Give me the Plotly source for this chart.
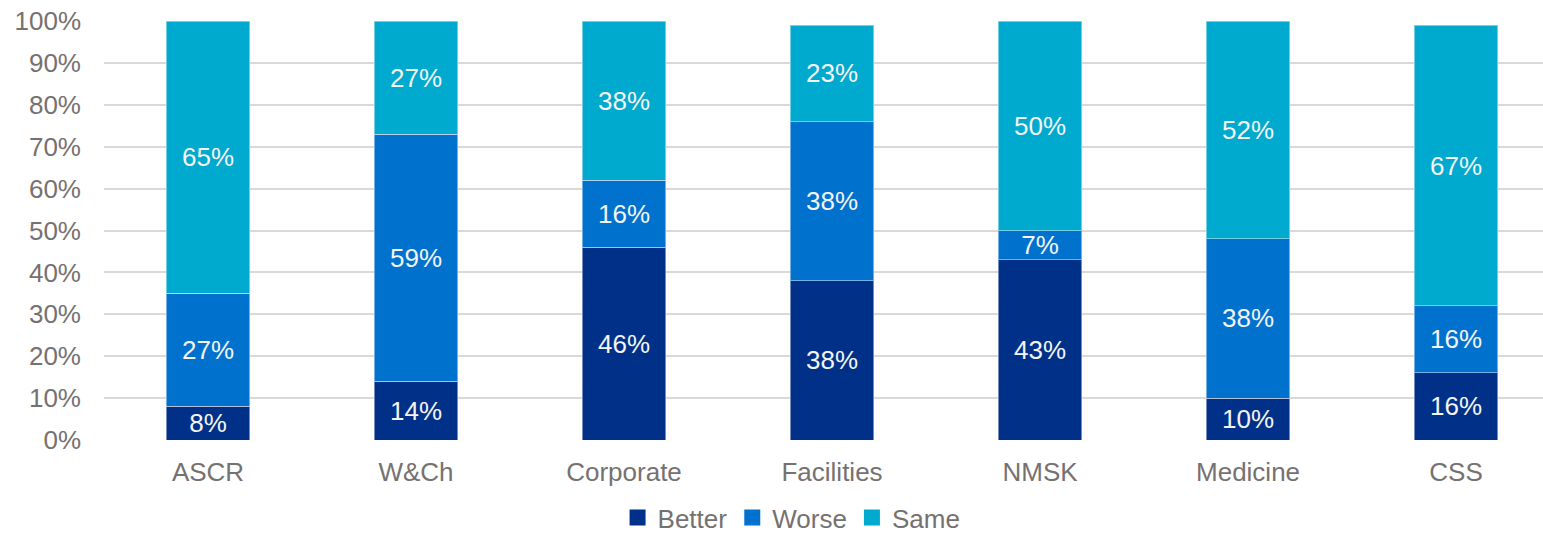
import plotly.graph_objects as go

# Survey responses by division (share of respondents)
categories = ["ASCR", "W&Ch", "Corporate", "Facilities", "NMSK", "Medicine", "CSS"]
better = [8, 14, 46, 38, 43, 10, 16]
worse = [27, 59, 16, 38, 7, 38, 16]
same = [65, 27, 38, 23, 50, 52, 67]

y_ticks = [0, 10, 20, 30, 40, 50, 60, 70, 80, 90, 100]
y_tick_labels = [f"{v}%" for v in y_ticks]

FONT = "Liberation Sans, Arial, sans-serif"
GREY = "#767171"

series = [
    ("Better", better, "#003087"),
    ("Worse", worse, "#0072CE"),
    ("Same", same, "#00A9CE"),
]

fig = go.Figure()
for name, vals, color in series:
    fig.add_trace(go.Bar(
        name=name,
        x=categories,
        y=[v / 100 for v in vals],
        width=0.4,
        marker=dict(color=color, line=dict(color="rgba(255,255,255,0.45)", width=1)),
        text=[f"{v}%" for v in vals],
        textposition="inside",
        insidetextanchor="middle",
        constraintext="none",
        textfont=dict(family=FONT, size=26, color="#F4F4F4"),
        hoverinfo="skip",
        showlegend=False,
    ))

# Legend entries with larger square swatches
for name, _, color in series:
    fig.add_trace(go.Scatter(
        name=name,
        x=[None], y=[None],
        mode="markers",
        marker=dict(symbol="square", size=16, color=color),
        showlegend=True,
    ))

fig.update_layout(
    barmode="stack",
    width=1543,
    height=541,
    margin=dict(l=104, r=0, t=21, b=101),
    plot_bgcolor="white",
    paper_bgcolor="white",
    font=dict(family=FONT, size=26, color=GREY),
    showlegend=True,
    legend=dict(
        orientation="h",
        xref="container", x=0.513, xanchor="center",
        yref="container", y=0.0, yanchor="bottom",
        font=dict(family=FONT, size=26, color=GREY),
        traceorder="normal",
        itemwidth=30,
    ),
    xaxis=dict(
        range=[-0.5, 6.418],
        showgrid=False,
        showline=False,
        zeroline=False,
        ticks="",
        ticklabelstandoff=14,
        tickfont=dict(family=FONT, size=26, color=GREY),
    ),
    yaxis=dict(
        range=[0, 1],
        tickvals=[v / 100 for v in y_ticks],
        ticktext=y_tick_labels,
        showgrid=True,
        gridcolor="#DCD8D8",
        gridwidth=1.5,
        zeroline=False,
        showline=False,
        ticks="",
        ticklabelstandoff=22,
        tickfont=dict(family=FONT, size=26, color=GREY),
    ),
)

fig.write_html("out.html")
